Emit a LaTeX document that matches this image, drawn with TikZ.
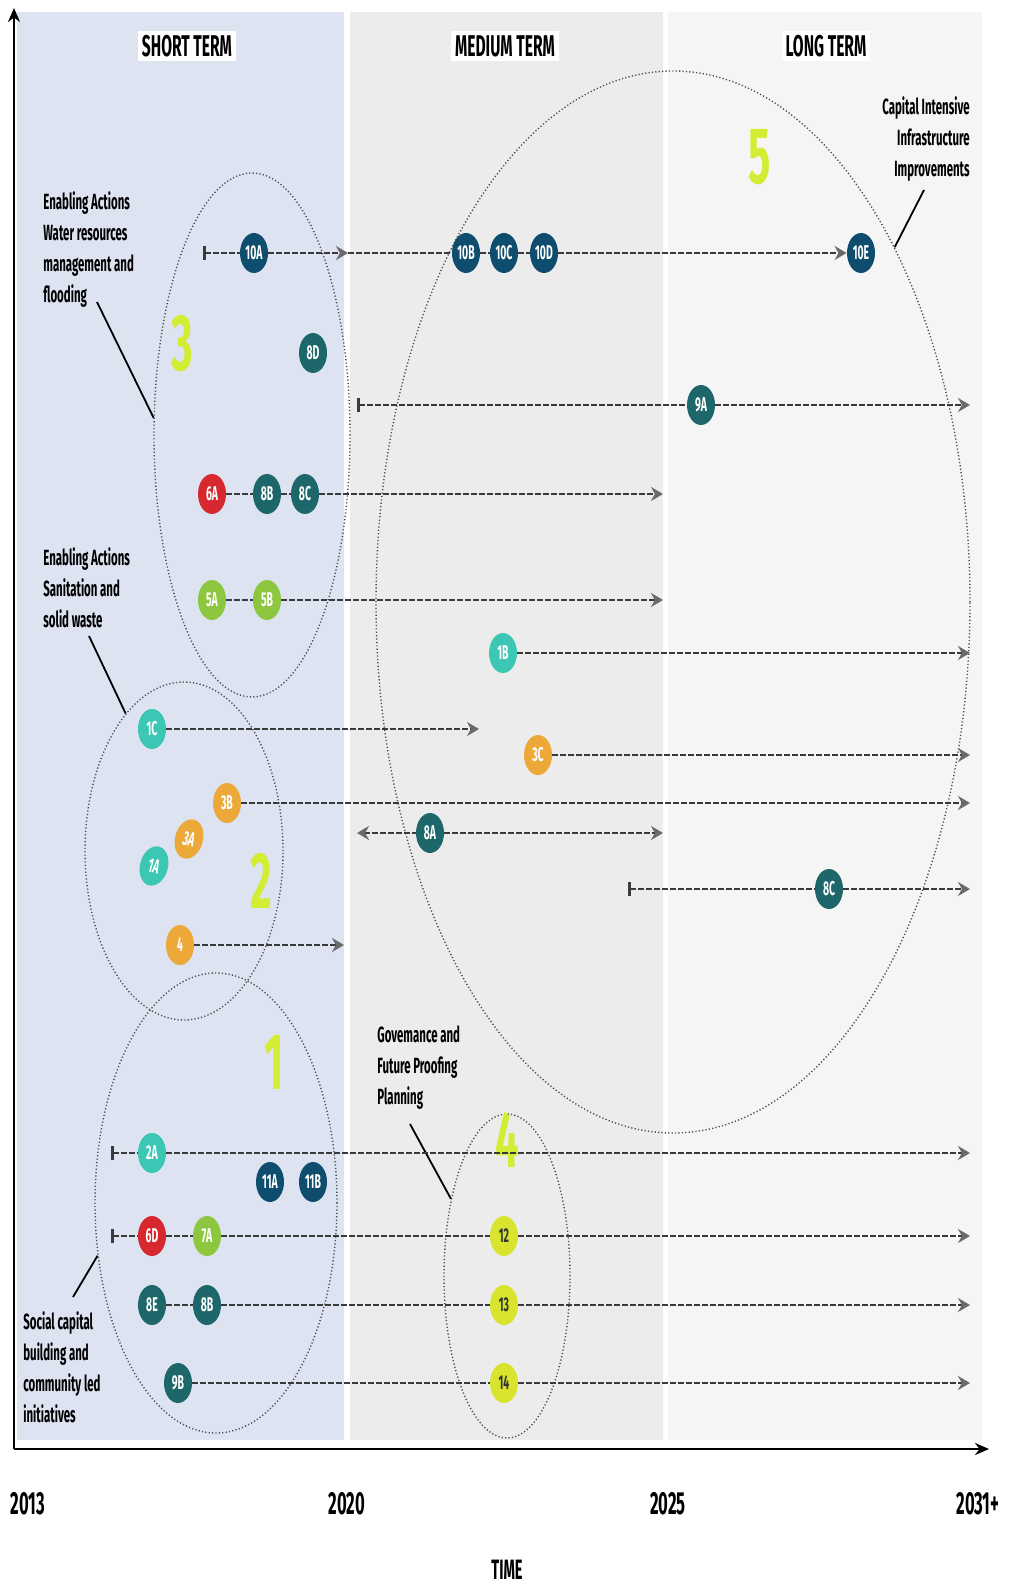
\documentclass[tikz,border=0pt]{standalone}
\usepackage{fontspec}
\setmainfont{Fira Sans}[FakeStretch=0.52]
\usetikzlibrary{arrows.meta,shapes.geometric}

\definecolor{stblue}{HTML}{DEE3F2}
\definecolor{mtgray}{HTML}{ECECEC}
\definecolor{ltgray}{HTML}{F5F5F5}
\definecolor{navyc}{HTML}{0F4D6E}
\definecolor{tealc}{HTML}{1D676A}
\definecolor{redc}{HTML}{D7282F}
\definecolor{limec}{HTML}{8DC63F}
\definecolor{aquac}{HTML}{3CC6B4}
\definecolor{orangec}{HTML}{ECA93A}
\definecolor{yelc}{HTML}{D8E42E}
\definecolor{grpc}{HTML}{D3EC34}
\definecolor{lineg}{HTML}{3A3A3A}
\definecolor{tipg}{HTML}{6A6A6A}

\tikzset{
  act/.style={ellipse,minimum width=14pt,minimum height=20pt,inner sep=0pt,
    font=\bfseries\fontsize{10}{10}\selectfont,text=white},
  navy/.style={act,fill=navyc},
  teal/.style={act,fill=tealc},
  red/.style={act,fill=redc},
  lime/.style={act,fill=limec},
  aqua/.style={act,fill=aquac},
  orng/.style={act,fill=orangec},
  yel/.style={act,fill=yelc,text=black!80},
  plan/.style={draw=lineg,line width=1.3pt,dash pattern=on 3pt off 1pt},
  run/.style={plan,-{Stealth[length=6pt,width=7pt,color=tipg]}},
  back/.style={plan,{Stealth[length=6pt,width=7pt,color=tipg]}-},
  grp/.style={ellipse,draw=black!70,line width=0.7pt,dash pattern=on 0.6pt off 1.1pt},
  digit/.style={text=grpc,font=\bfseries\fontsize{40}{40}\selectfont},
  head/.style={fill=white,inner sep=2pt,font=\bfseries\fontsize{15}{15}\selectfont},
  note/.style={inner sep=0pt,font=\bfseries\fontsize{11}{15.5}\selectfont},
  year/.style={font=\bfseries\fontsize{16}{16}\selectfont},
  lead/.style={draw=black,line width=0.9pt},
  axis/.style={draw=black,line width=1.2pt,-{Stealth[length=7pt,width=6pt]}}
}

\begin{document}
\begin{tikzpicture}[x=0.5pt,y=-0.5pt]
\useasboundingbox (0,0) rectangle (1009,1588);
% background
\fill[stblue] (17,12) rectangle (344,1440);
\fill[mtgray] (350,12) rectangle (663,1440);
\fill[ltgray] (668,12) rectangle (982,1440);

\coordinate (O) at (14,1449);
\coordinate (Y) at (14,8);
\coordinate (X) at (989,1449);
\draw[axis] (O) -- (Y);
\draw[axis] (O) -- (X);

\node[head] (st) at (187,46) {SHORT TERM};
\node[head] (mt) at (505,46) {MEDIUM TERM};
\node[head] (lt) at (826,46) {LONG TERM};

\node[year] (y13) at (28,1504) {2013};
\node[year] (y20) at (347,1504) {2020};
\node[year] (y25) at (668,1504) {2025};
\node[year] (y31) at (978,1504) {2031+};
\node[year,font=\bfseries\fontsize{14}{14}\selectfont] (time) at (507,1570) {TIME};

% groups
\node[grp,minimum width=98pt,minimum height=262pt] (g3) at (252,435) {};
\node[grp,minimum width=99pt,minimum height=169pt] (g2) at (184,851) {};
\node[grp,minimum width=121pt,minimum height=230pt] (g1) at (216,1203) {};
\node[grp,minimum width=297pt,minimum height=531pt] (g5) at (673,602) {};
\node[grp,minimum width=63pt,minimum height=162pt] (g4) at (507,1276) {};

\node[digit] (d3) at (182,344) {3};
\node[digit] (d2) at (261,881) {2};
\node[digit] (d1) at (274,1062) {1};
\node[digit] (d4) at (507,1140) {4};
\node[digit] (d5) at (760,157) {5};

% callouts
\node[note,anchor=north west,align=left] (wr) at (43,191)
  {Enabling Actions\\Water resources\\management and\\flooding};
\node[note,anchor=north west,align=left] (sw) at (43,547)
  {Enabling Actions\\Sanitation and\\solid waste};
\node[note,anchor=north west,align=left] (sc) at (23,1311)
  {Social capital\\building and\\community led\\initiatives};
\node[note,anchor=north west,align=left] (gv) at (377,1025)
  {Govemance and\\Future Proofing\\Planning};
\node[note,anchor=north east,align=right] (ci) at (970,96)
  {Capital Intensive\\Infrastructure\\Improvements};
\coordinate (wrl) at (97,302);
\coordinate (swl) at (89,636);
\coordinate (scl) at (73,1297);
\coordinate (gvl) at (410,1124);
\coordinate (cil) at (924,190);
\draw[lead] (wrl) -- (g3.170);
\draw[lead] (swl) -- (g2.113);
\draw[lead] (scl) -- (g1.204);
\draw[lead] (gvl) -- (g4.126);
\draw[lead] (cil) -- (g5.58);

% actions
\node[navy] (n10A) at (254,253) {10A};
\node[navy] (n10B) at (466,253) {10B};
\node[navy] (n10C) at (504,253) {10C};
\node[navy] (n10D) at (544,253) {10D};
\node[navy] (n10E) at (861,253) {10E};
\node[teal] (n8D) at (313,353) {8D};
\node[teal] (n9A) at (701,405) {9A};
\node[red] (n6A) at (212,494) {6A};
\node[teal] (n8B) at (267,494) {8B};
\node[teal] (n8C) at (305,494) {8C};
\node[lime] (n5A) at (212,600) {5A};
\node[lime] (n5B) at (267,600) {5B};
\node[aqua] (n1B) at (503,653) {1B};
\node[aqua] (n1C) at (152,729) {1C};
\node[orng] (n3C) at (538,755) {3C};
\node[orng] (n3B) at (227,803) {3B};
\node[orng,rotate=-15] (n3A) at (189,839) {3A};
\node[aqua,rotate=-15] (n1A) at (154,866) {1A};
\node[teal] (n8A) at (430,833) {8A};
\node[teal] (n8Cb) at (829,889) {8C};
\node[orng] (n4) at (180,945) {4};
\node[aqua] (n2A) at (152,1153) {2A};
\node[navy] (n11A) at (270,1182) {11A};
\node[navy] (n11B) at (313,1182) {11B};
\node[red] (n6D) at (152,1236) {6D};
\node[lime] (n7A) at (207,1236) {7A};
\node[yel] (n12) at (504,1236) {12};
\node[teal] (n8E) at (152,1305) {8E};
\node[teal] (n8Bb) at (207,1305) {8B};
\node[yel] (n13) at (504,1305) {13};
\node[teal] (n9B) at (178,1383) {9B};
\node[yel] (n14) at (504,1383) {14};

% time lines
\coordinate (s10) at (203,253);
\coordinate (m10) at (348,253);
\coordinate (s9) at (357,405);
\coordinate (e9) at (970,405);
\coordinate (e6) at (663,494);
\coordinate (e5) at (663,600);
\coordinate (e1B) at (970,653);
\coordinate (e1C) at (479,729);
\coordinate (e3C) at (970,755);
\coordinate (e3B) at (970,803);
\coordinate (w8A) at (357,833);
\coordinate (e8A) at (663,833);
\coordinate (s8C) at (628,889);
\coordinate (e8C) at (970,889);
\coordinate (e4) at (344,945);
\coordinate (s2A) at (111,1153);
\coordinate (e2A) at (970,1153);
\coordinate (s6D) at (111,1236);
\coordinate (e12) at (970,1236);
\coordinate (e13) at (970,1305);
\coordinate (e14) at (970,1383);

\draw[plan,{Bar[width=7pt]}-] (s10) -- (n10A);
\draw[run] (n10A) -- (m10);
\draw[plan] (m10) -- (n10B);
\draw[plan] (n10B) -- (n10C);
\draw[plan] (n10C) -- (n10D);
\draw[run] (n10D) -- (n10E);
\draw[plan,{Bar[width=7pt]}-] (s9) -- (n9A);
\draw[run] (n9A) -- (e9);
\draw[plan] (n6A) -- (n8B);
\draw[plan] (n8B) -- (n8C);
\draw[run] (n8C) -- (e6);
\draw[plan] (n5A) -- (n5B);
\draw[run] (n5B) -- (e5);
\draw[run] (n1B) -- (e1B);
\draw[run] (n1C) -- (e1C);
\draw[run] (n3C) -- (e3C);
\draw[run] (n3B) -- (e3B);
\draw[back] (w8A) -- (n8A);
\draw[run] (n8A) -- (e8A);
\draw[plan,{Bar[width=7pt]}-] (s8C) -- (n8Cb);
\draw[run] (n8Cb) -- (e8C);
\draw[run] (n4) -- (e4);
\draw[plan,{Bar[width=7pt]}-] (s2A) -- (n2A);
\draw[run] (n2A) -- (e2A);
\draw[plan,{Bar[width=7pt]}-] (s6D) -- (n6D);
\draw[plan] (n6D) -- (n7A);
\draw[plan] (n7A) -- (n12);
\draw[run] (n12) -- (e12);
\draw[plan] (n8E) -- (n8Bb);
\draw[plan] (n8Bb) -- (n13);
\draw[run] (n13) -- (e13);
\draw[plan] (n9B) -- (n14);
\draw[run] (n14) -- (e14);
\end{tikzpicture}
\end{document}
